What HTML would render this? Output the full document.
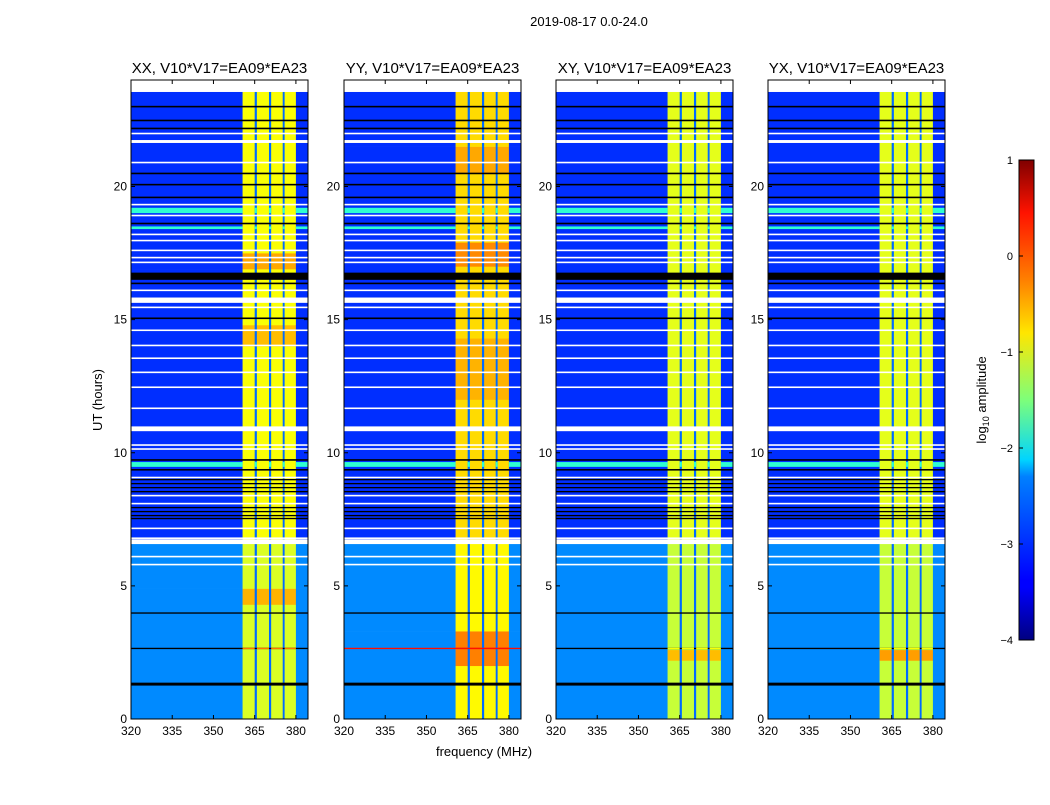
<!DOCTYPE html>
<html><head><meta charset="utf-8"><style>
body{margin:0;background:#fff;width:1050px;height:800px;overflow:hidden;font-family:"Liberation Sans",sans-serif}
svg text{font-family:"Liberation Sans",sans-serif;fill:#000}
</style></head><body>
<svg id="chart" width="1050" height="800" xmlns="http://www.w3.org/2000/svg">
<defs><linearGradient id="jet" x1="0" y1="1" x2="0" y2="0">
<stop offset="0" stop-color="#000080"/><stop offset="0.11" stop-color="#0000ff"/><stop offset="0.125" stop-color="#0000ff"/>
<stop offset="0.34" stop-color="#0080ff"/><stop offset="0.375" stop-color="#00d4ff"/><stop offset="0.5" stop-color="#7dff7a"/>
<stop offset="0.64" stop-color="#ffe600"/><stop offset="0.75" stop-color="#ff8000"/><stop offset="0.89" stop-color="#ff1300"/><stop offset="1" stop-color="#800000"/></linearGradient></defs>
<text x="589" y="26" font-size="13" text-anchor="middle">2019-08-17 0.0-24.0</text>
<text transform="translate(102,400) rotate(-90)" font-size="13" text-anchor="middle">UT (hours)</text>
<text x="484" y="756" font-size="13" text-anchor="middle">frequency (MHz)</text>
<g id="panels"></g>
<g id="cbar">
<rect x="1019" y="160" width="15" height="480" fill="url(#jet)" stroke="#000" stroke-width="1"/>
</g>
<text transform="translate(986,400) rotate(-90)" font-size="13" text-anchor="middle">log<tspan font-size="9" dy="3">10</tspan><tspan dy="-3"> amplitude</tspan></text>
</svg>
<script>
const panelTitles = ["XX, V10*V17=EA09*EA23","YY, V10*V17=EA09*EA23","XY, V10*V17=EA09*EA23","YX, V10*V17=EA09*EA23"];
const freqEdges = [320, 360.6, 365, 365.8, 370.2, 371, 375.2, 375.9, 380, 384.4];
const colKind = ['bg','strip','gap','strip','gap','strip','gap','strip','bg'];
const panelStripLevel = [-0.9, -0.7, -1.0, -1.0];
const bgLowLevel = -2.7, bgHighLevel = -3.15, gapLevel = -2.85, cyanLevel = -1.9;
const bgSplitHour = 6.6, dataTopHour = 23.55;
const hotPanel = [0,0,0,1,1,1,1,2,3];
const hotStart = [16.9,14.0,4.3,17.0,12.0,2.0,20.5,2.2,2.2];
const hotEnd =   [17.5,14.8,4.9,17.9,14.3,3.3,21.5,2.6,2.6];
const hotLevel = [-0.45,-0.55,-0.5,-0.3,-0.5,-0.25,-0.45,-0.55,-0.4];
const featHour = [23.0,22.48,22.18,21.99,21.69,20.9,20.49,20.07,19.59,19.32,19.1,18.91,18.61,18.45,18.2,17.97,17.6,17.33,17.15,16.63,16.36,16.1,15.73,15.46,15.05,14.6,14.03,13.55,13.02,12.46,11.67,10.9,10.29,10.14,9.73,9.56,9.36,9.07,8.99,8.84,8.69,8.54,8.39,8.09,7.94,7.79,7.64,7.53,7.16,6.79,6.66,6.1,5.8,3.98,2.65,1.31];
const featKind = ['black','black','black','white','white','white','black','black','black','white','cyan','white','black','cyan','white','white','white','white','white','black','black','white','white','white','black','white','white','white','white','white','white','white','white','white','black','cyan','black','white','black','black','black','black','white','white','black','black','black','black','white','white','white','white','white','black','line','black'];
const featWidth = [0.06,0.06,0.06,0.06,0.11,0.06,0.06,0.06,0.06,0.06,0.2,0.06,0.06,0.1,0.06,0.06,0.06,0.06,0.06,0.27,0.06,0.06,0.2,0.06,0.06,0.06,0.06,0.06,0.06,0.06,0.06,0.18,0.06,0.06,0.06,0.18,0.06,0.06,0.05,0.05,0.05,0.05,0.06,0.06,0.05,0.05,0.05,0.05,0.06,0.06,0.18,0.06,0.06,0.05,0.05,0.11];
const lineLevel = [-0.2, 0.3, -0.9, -0.9];
const xTicks = [320,335,350,365,380];
const yTicks = [0,5,10,15,20];
const cbarTicks = [1,0,-1,-2,-3,-4];

const panelLeft = [131,344,556,768], panelW = 177, plotTop = 80, plotBot = 719;
const fMin = 320, fMax = 384.4, tMax = 24;
function jet(v){let x=Math.max(0,Math.min(1,(v+4)/5));
 const r=Math.max(0,Math.min(1,1.5-Math.abs(4*x-3))),g=Math.max(0,Math.min(1,1.5-Math.abs(4*x-2))),b=Math.max(0,Math.min(1,1.5-Math.abs(4*x-1)));
 return `rgb(${Math.round(r*255)},${Math.round(g*255)},${Math.round(b*255)})`;}
const NS="http://www.w3.org/2000/svg";
function mk(tag,attrs,parent){const e=document.createElementNS(NS,tag);for(const k in attrs)e.setAttribute(k,attrs[k]);parent.appendChild(e);return e;}
const root=document.getElementById('panels');
panelTitles.forEach((title,p)=>{
 const L=panelLeft[p];
 const xs=f=>L+(f-fMin)/(fMax-fMin)*panelW;
 const ys=h=>plotBot-h/tMax*(plotBot-plotTop);
 const g=mk('g',{},root);
 
 
 const cellVal=(k,h)=>{ if(k==='bg') return h<bgSplitHour?bgLowLevel:bgHighLevel; if(k==='gap') return gapLevel; let v=panelStripLevel[p]; if(h<bgSplitHour) v-=0.15;
   for(let i=0;i<hotPanel.length;i++) if(hotPanel[i]===p&&h>=hotStart[i]&&h<hotEnd[i]) v=hotLevel[i]; return v;};
 let cuts=[0,bgSplitHour,dataTopHour];
 hotPanel.forEach((hp,i)=>{if(hp===p){cuts.push(hotStart[i],hotEnd[i]);}});
 cuts=[...new Set(cuts)].sort((a,b)=>a-b);
 for(let c=0;c<colKind.length;c++){
  for(let t=0;t<cuts.length-1;t++){
   const h0=cuts[t],h1=cuts[t+1],v=cellVal(colKind[c],(h0+h1)/2);
   const r=mk('rect',{x:xs(freqEdges[c]),y:ys(h1),width:xs(freqEdges[c+1])-xs(freqEdges[c])+0.3,height:ys(h0)-ys(h1)+0.3,fill:jet(v)},g);
   
   
  }
 }
 featHour.forEach((h,i)=>{
  const k=featKind[i],w=featWidth[i],y0=ys(h+w/2),hh=Math.max(1,ys(h-w/2)-y0);
  if(k==='cyan'){
   for(let c=0;c<colKind.length;c++){ if(colKind[c]==='strip') continue;
    const r=mk('rect',{x:xs(freqEdges[c]),y:y0,width:xs(freqEdges[c+1])-xs(freqEdges[c]),height:hh,fill:jet(cyanLevel)},g);
    
    }
  } else if(k==='line'){
   const r=mk('rect',{x:xs(fMin),y:y0,width:panelW,height:hh,fill:p===1?jet(lineLevel[p]):'#000'},g);
   
   
   for(let c=1;c<8;c+=2){const s=mk('rect',{x:xs(freqEdges[c]),y:y0,width:xs(freqEdges[c+1])-xs(freqEdges[c]),height:hh,fill:jet(lineLevel[p])},g);
    
    }
  } else {
   const r=mk('rect',{x:xs(fMin),y:y0,width:panelW,height:hh,fill:k==='white'?'#fff':'#000'},g);
   
   
  }
 });
 const fr=mk('rect',{x:L,y:plotTop,width:panelW,height:plotBot-plotTop,fill:'none',stroke:'#000','stroke-width':1},g);
 
 
 const tt=mk('text',{x:L+panelW/2,y:73,'font-size':15,'text-anchor':'middle'},g);tt.textContent=title;
 
 
 xTicks.forEach(f=>{const x=xs(f);
  mk('line',{x1:x,x2:x,y1:plotBot,y2:plotBot-4,stroke:'#000'},g);mk('line',{x1:x,x2:x,y1:plotTop,y2:plotTop+4,stroke:'#000'},g);
  const t=mk('text',{x:x,y:plotBot+16,'font-size':12,'text-anchor':'middle'},g);t.textContent=f;
  
  });
 yTicks.forEach(h=>{const y=ys(h);
  mk('line',{x1:L,x2:L+4,y1:y,y2:y,stroke:'#000'},g);mk('line',{x1:L+panelW,x2:L+panelW-4,y1:y,y2:y,stroke:'#000'},g);
  const t=mk('text',{x:L-4,y:y+4,'font-size':12,'text-anchor':'end'},g);t.textContent=h;
  
  });
});
const cb=document.getElementById('cbar');
cbarTicks.forEach(v=>{const y=160+(1-v)/5*480;
 mk('line',{x1:1019,x2:1023,y1:y,y2:y,stroke:'#000'},cb);
 const t=mk('text',{x:1013,y:y+4,'font-size':11,'text-anchor':'end'},cb);t.textContent=v<0?'\u2212'+(-v):v;
 
 });
</script>
</body></html>
